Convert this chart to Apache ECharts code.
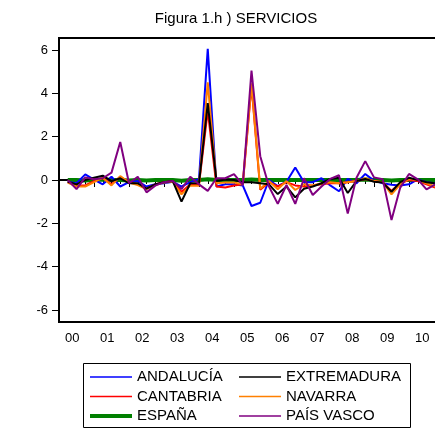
<!DOCTYPE html>
<html><head><meta charset="utf-8">
<script src="https://cdn.jsdelivr.net/npm/echarts@6/dist/echarts.min.js"></script>
<style>html,body{margin:0;padding:0;background:#fff}#c{width:435px;height:429px}</style>
</head><body><div id="c"></div>
<script>
// Quarterly series, 2000Q2 .. 2010Q4 (quarter index 1 = 2000Q2, 0 = 2000Q1)
const yearLabels = ['00','01','02','03','04','05','06','07','08','09','10'];
const yTickValues = [-6,-4,-2,0,2,4,6];
const firstQuarter = 1;

const andalucia = [
-0.08,-0.15,0.26,0.02,-0.2,0.15,-0.3,-0.1,
-0.05,-0.3,-0.2,-0.15,-0.08,-0.3,-0.1,0.05,
6.05,-0.3,-0.2,-0.2,-0.25,-1.2,-1.05,0.0,
-0.28,-0.08,0.58,-0.1,-0.1,0.08,-0.25,-0.52,
0.05,-0.15,0.28,-0.03,-0.15,-0.22,-0.25,-0.2,
0.03,-0.1,-0.15];
const cantabria = [
-0.1,-0.25,-0.25,-0.05,0.1,-0.2,0.15,-0.1,
-0.2,-0.4,-0.2,-0.1,-0.05,-0.55,-0.2,-0.2,
3.2,-0.3,-0.35,-0.25,-0.2,4.35,-0.45,-0.1,
-0.3,-0.1,-0.25,-0.3,-0.25,-0.2,-0.15,-0.15,
-0.1,-0.05,0.05,-0.05,-0.1,-0.5,-0.15,0.0,
-0.05,-0.2,-0.35];
const espana = [
0.0,0.0,-0.02,0.0,0.02,0.0,0.0,-0.02,
0.0,-0.02,0.0,0.0,0.0,-0.03,0.0,0.0,
0.03,0.0,0.0,0.0,0.0,0.02,0.0,0.0,
0.0,0.0,0.0,0.0,0.0,0.0,0.0,0.0,
0.0,0.0,0.02,0.0,0.0,-0.02,0.0,0.0,
0.0,0.0,0.0];
const extremadura = [
-0.08,-0.2,0.0,0.1,0.2,-0.05,0.08,-0.15,
-0.15,-0.4,-0.2,-0.1,-0.05,-1.0,-0.15,-0.15,
3.55,-0.05,0.02,0.0,-0.1,-0.1,-0.15,-0.2,
-0.65,-0.3,-0.8,-0.4,-0.3,-0.15,0.05,0.1,
-0.6,-0.05,0.05,-0.08,-0.12,-0.54,-0.1,0.1,
0.0,-0.1,-0.15];
const navarra = [
-0.12,-0.3,-0.3,-0.1,0.1,-0.25,0.18,-0.12,
-0.23,-0.42,-0.23,-0.12,-0.08,-0.66,-0.26,-0.26,
4.5,-0.15,-0.12,-0.12,-0.2,4.46,-0.4,-0.05,
-0.43,-0.05,-0.46,-0.2,-0.25,-0.15,-0.1,-0.15,
-0.1,-0.05,0.08,-0.05,-0.1,-0.66,-0.2,0.05,
0.0,-0.15,-0.3];
const paisVasco = [
0.0,-0.42,0.12,0.03,0.08,0.34,1.75,-0.15,
0.15,-0.57,-0.26,-0.1,-0.05,-0.42,0.15,-0.2,
-0.5,0.08,0.08,0.27,-0.23,5.05,1.1,-0.3,
-1.1,-0.23,-1.1,0.08,-0.69,-0.3,0.05,0.22,
-1.55,0.1,0.87,0.12,0.03,-1.85,-0.35,0.28,
0.03,-0.43,-0.2];

const font = '"Liberation Sans", Arial, sans-serif';
function pts(arr){ return arr.map((v,i)=>[firstQuarter+i, v]); }
const labelPos = yearLabels.map((y,k)=>k*4+1.5);

const thin = 'path://M0,0H84V3H0Z';
const legendText = {fontFamily:font, fontSize:15, color:'#000'};
const legendCommon = {orient:'vertical', top:369.5, itemWidth:42, itemHeight:4, itemGap:4.5,
  padding:0, textStyle:legendText, itemStyle:{borderWidth:0}, selectedMode:false};

const chart = echarts.init(document.getElementById('c'), null, {renderer:'canvas'});
chart.setOption({
  animation:false,
  backgroundColor:'#fff',
  title:{text:'Figura 1.h ) SERVICIOS', left:236, textAlign:'center', top:11, padding:0,
    textStyle:{fontFamily:font, fontSize:15, fontWeight:'normal', color:'#000'}},
  legend:[
    Object.assign({left:90, data:[{name:'ANDALUCÍA',icon:thin},{name:'CANTABRIA',icon:thin},{name:'ESPAÑA',icon:'rect'}]}, legendCommon),
    Object.assign({left:239, data:[{name:'EXTREMADURA',icon:thin},{name:'NAVARRA',icon:thin},{name:'PAÍS VASCO',icon:thin}]}, legendCommon)
  ],
  graphic:[{type:'rect', shape:{x:83.5, y:363.5, width:327, height:64}, style:{fill:null, stroke:'#000', lineWidth:1}, z:-1}],
  grid:{left:59, top:38, width:385, height:284, show:true, borderColor:'#000', borderWidth:2,
    outerBoundsMode:'none', containLabel:false},
  xAxis:{type:'value', min:0, max:44, interval:4,
    axisLine:{show:true, lineStyle:{color:'#000', width:2}},
    axisTick:{show:true, length:7, lineStyle:{color:'#000', width:1}},
    minorTick:{show:true, splitNumber:4, length:4, lineStyle:{color:'#000', width:1}},
    splitLine:{show:false},
    axisLabel:{customValues:labelPos, margin:10, fontFamily:font, fontSize:13, color:'#000',
      formatter:v=>yearLabels[Math.round((v-1.5)/4)]}},
  yAxis:{type:'value', min:-6.55, max:6.55,
    axisLine:{show:true, lineStyle:{color:'#000', width:2}},
    axisTick:{show:true, customValues:yTickValues, length:7, lineStyle:{color:'#000', width:1}},
    splitLine:{show:false},
    axisLabel:{customValues:yTickValues, margin:11, fontFamily:font, fontSize:13, color:'#000'}},
  series:[
    {name:'ESPAÑA', type:'line', data:pts(espana), symbol:'none', color:'#008000', lineStyle:{width:4}, z:2},
    {name:'ANDALUCÍA', type:'line', data:pts(andalucia), symbol:'none', color:'#0000FF', lineStyle:{width:2}, z:3},
    {name:'CANTABRIA', type:'line', data:pts(cantabria), symbol:'none', color:'#FF0000', lineStyle:{width:2}, z:4},
    {name:'NAVARRA', type:'line', data:pts(navarra), symbol:'none', color:'#FF8000', lineStyle:{width:2}, z:5},
    {name:'EXTREMADURA', type:'line', data:pts(extremadura), symbol:'none', color:'#000000', lineStyle:{width:2}, z:6},
    {name:'PAÍS VASCO', type:'line', data:pts(paisVasco), symbol:'none', color:'#800080', lineStyle:{width:2}, z:7}
  ]
});
</script></body></html>
